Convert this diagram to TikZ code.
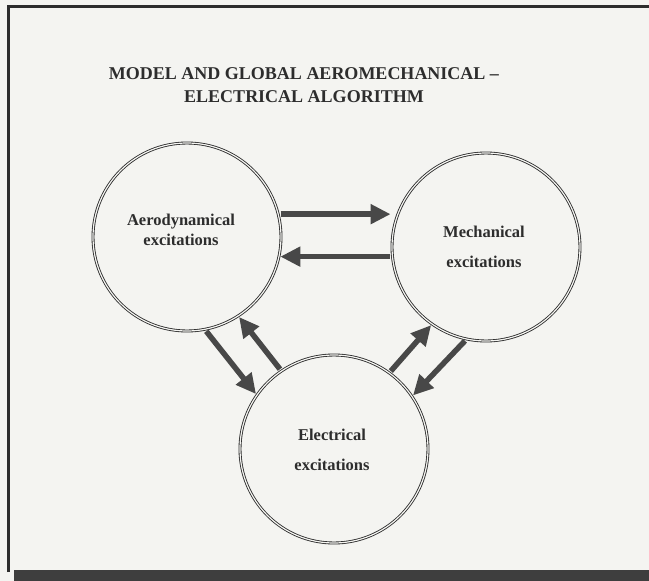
\documentclass[tikz,border=0pt]{standalone}
\usepackage{fontspec}
\setmainfont{Liberation Serif}
\usetikzlibrary{arrows.meta}
\definecolor{paper}{RGB}{244,244,241}
\definecolor{ink}{RGB}{45,45,45}
\definecolor{arrowgray}{RGB}{72,72,72}
\definecolor{shadowgray}{RGB}{62,62,62}
\begin{document}
\begin{tikzpicture}[x=1pt,y=-1pt,
  bubble/.style={circle, draw=ink, line width=0.85pt, double=paper,
    double distance=1.2pt, minimum size=188pt, inner sep=0pt},
  caption/.style={font=\bfseries\fontsize{16.5}{19.5}\selectfont, text=ink, align=center},
  flow/.style={draw=arrowgray, line width=5.5pt,
    -{Triangle[length=20pt,width=19pt]}, shorten <=2pt, shorten >=1pt},
]
% page and frame
\clip (0,0) rectangle (649,581);
\fill[paper] (0,0) rectangle (649,581);
\fill[shadowgray] (14,570) rectangle (649,581);
\draw[ink, line width=3pt] (8.5,572) -- (8.5,6.5) -- (660,6.5);

% title
\node[font=\bfseries\fontsize{18}{23}\selectfont, text=ink, align=center]
  (title) at (304,85) {MODEL AND GLOBAL AEROMECHANICAL –\\ELECTRICAL ALGORITHM};

% the three excitation circles
\node[bubble] (a) at (187,237) {};
\node[bubble] (m) at (486,247) {};
\node[bubble] (e) at (334,449) {};

\node[caption] (al) at (181,230) {Aerodynamical\\excitations};
\node[caption] (ml) at (484,247) {Mechanical\\[11pt]excitations};
\node[caption] (el) at (332,450) {Electrical\\[11pt]excitations};

% couplings
\draw[flow] (a.14) -- (a.14 -| m.west);
\draw[flow] (a.-12 -| m.west) -- (a.-12);
\draw[flow] (a.-79) -- (e.145);
\draw[flow] (e.124) -- (a.-57);
\draw[flow] (e.54) -- (m.-125);
\draw[flow] (m.-102) -- (e.34);
\end{tikzpicture}
\end{document}
